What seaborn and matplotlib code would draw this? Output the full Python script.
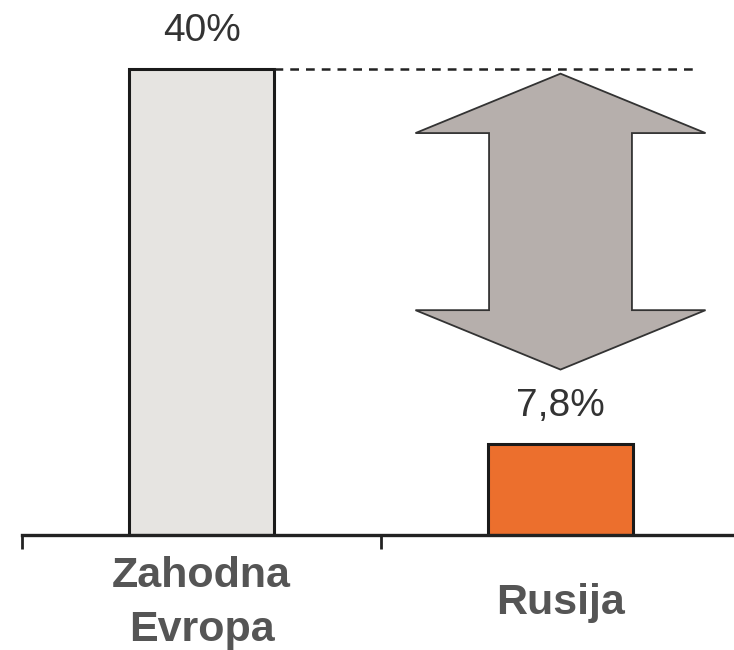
#!/usr/bin/env python3
"""Bar chart: Zahodna Evropa vs Rusija with a double-headed gap arrow."""

import matplotlib.pyplot as plt
import seaborn as sns
from matplotlib.patches import Polygon

categories = ["Zahodna\nEvropa", "Rusija"]
values = [40.0, 7.8]
value_labels = ["40%", "7,8%"]
bar_colors = ["#e6e4e1", "#ec6f2d"]

sns.set_theme(style="white")
plt.rcParams["font.family"] = ["Liberation Sans", "DejaVu Sans"]

fig = plt.figure(figsize=(7.34, 6.5), dpi=100)
# axis line sits at y=535px, left tick at x=22px
ax = fig.add_axes([22 / 734, 115 / 650, 712 / 734, 535 / 650])
px_per_unit = 466 / values[0]
px_per_cat = 359

sns.barplot(
    x=categories,
    y=values,
    hue=categories,
    palette=bar_colors,
    saturation=1,
    width=0.404,
    edgecolor="#1a1a1a",
    linewidth=2.2,
    legend=False,
    ax=ax,
)

for i, (v, lab) in enumerate(zip(values, value_labels)):
    ax.text(i, v + 2.4, lab, ha="center", va="baseline", fontsize=28, color="#333333")

# dashed reference line from top of first bar
ax.plot([0.202, 1.38], [values[0], values[0]], ls=(0, (3.5, 2.8)), color="#222222", lw=1.8)

# double-headed arrow showing the gap
top, bottom = values[0] - 0.4, values[1] + 6.4
head_h, head_w, shaft_w = 5.1, 0.404, 0.199
cx = 1
pts = [
    (cx, top),
    (cx + head_w, top - head_h),
    (cx + shaft_w, top - head_h),
    (cx + shaft_w, bottom + head_h),
    (cx + head_w, bottom + head_h),
    (cx, bottom),
    (cx - head_w, bottom + head_h),
    (cx - shaft_w, bottom + head_h),
    (cx - shaft_w, top - head_h),
    (cx - head_w, top - head_h),
]
ax.add_patch(Polygon(pts, closed=True, facecolor="#b6afac", edgecolor="#333333", lw=1.3))

for s in ["top", "right", "left"]:
    ax.spines[s].set_visible(False)
ax.spines["bottom"].set_color("#222222")
ax.spines["bottom"].set_linewidth(2.4)
ax.set_yticks([])
ax.set_xticks([-0.5, 0.5], minor=True)
ax.tick_params(axis="x", which="minor", direction="out", length=10, width=2, color="#222222", bottom=True)
ax.tick_params(axis="x", which="major", length=0, pad=49)
for t in ax.get_xticklabels():
    t.set_fontsize(31)
    t.set_fontweight("bold")
    t.set_color("#555555")
    t.set_linespacing(1.48)
    t.set_verticalalignment("center")
ax.set_xlabel("")
ax.set_ylabel("")
ax.set_ylim(0, 535 / px_per_unit)
ax.set_xlim(-0.5, -0.5 + 712 / px_per_cat)

fig.savefig("out.png", dpi=100)
